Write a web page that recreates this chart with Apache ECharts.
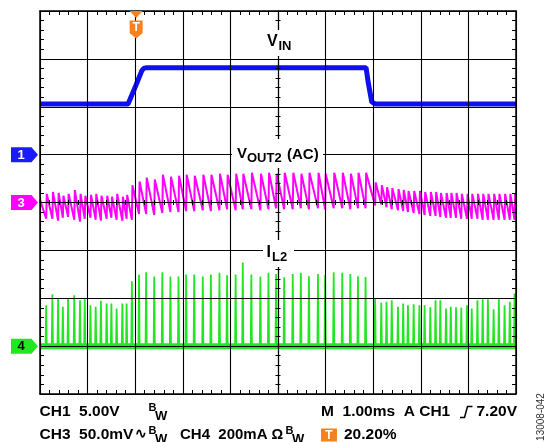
<!DOCTYPE html>
<html><head><meta charset="utf-8">
<script src="https://cdn.jsdelivr.net/npm/echarts@6/dist/echarts.min.js"></script>
<style>html,body{margin:0;padding:0;background:#fff}#c{width:553px;height:442px}</style>
</head><body><div id="c"></div>
<script>
// ---------- data (read from the scope capture) ----------
// time axis: 1.00 ms/div, trigger at 20.20 % of the screen
const timeRange = [-2.02, 7.98];           // ms
const divRangeX = [-5, 5];                 // screen divisions
const divRangeY = [-4, 4];
const ch1Range = [-25, 15];                // V   (5.00 V/div, ground +1 div)
const ch3Range = [-200, 200];              // mV  (50.0 mV/div, centre)
const ch4Range = [-200, 1400];             // mA  (200 mA/div, ground -3 div)

// CH1 : VIN
const vinT = [-2.02, -0.17, 0.00, 0.12, 0.16, 0.22, 4.83, 4.88, 4.95, 5.02, 7.98];
const vinV = [5.29, 5.29, 7.30, 8.77, 9.00, 9.08, 9.08, 7.40, 5.50, 5.29, 5.29];

// CH4 : IL2 current pulses
const spikeT = [-1.89, -1.76, -1.64, -1.54, -1.43, -1.30, -1.18, -1.08, -0.96, -0.85, -0.74, -0.62, -0.52, -0.41, -0.29, -0.20, -0.09,
  0.06, 0.21, 0.38, 0.55, 0.72, 0.89, 1.05, 1.22, 1.40, 1.57, 1.75, 1.91, 2.09, 2.24, 2.42, 2.61, 2.78, 2.94, 3.11, 3.29, 3.46, 3.63, 3.82, 3.97, 4.15, 4.33, 4.50, 4.66, 4.82,
  5.02, 5.15, 5.26, 5.37, 5.50, 5.61, 5.71, 5.83, 5.95, 6.06, 6.18, 6.29, 6.39, 6.51, 6.61, 6.72, 6.83, 6.95, 7.05, 7.17, 7.28, 7.39, 7.51, 7.62, 7.74, 7.85, 7.95];
const spikeI = [171, 217, 197, 164, 197, 212, 192, 197, 171, 164, 189, 178, 178, 157, 178, 178, 271,
  299, 309, 291, 309, 291, 291, 299, 299, 291, 299, 306, 296, 299, 349, 299, 291, 306, 301, 288, 301, 306, 292, 301, 296, 309, 306, 301, 292, 289,
  199, 181, 185, 192, 164, 178, 171, 175, 171, 171, 162, 192, 192, 157, 164, 162, 160, 171, 157, 192, 196, 196, 154, 199, 171, 185, 220];

// CH3 : VOUT2 (AC) ripple, one tooth per current pulse (peak after pulse, trough before next)
const voutStart = 3;
const voutFirstTrough = -17;
const voutPeak = [9, 11, 10, 7, 9, 13, 9, 7, 8, 9, 7, 7, 6, 9, 6, 8, 18,
  22, 26, 24, 29, 27, 28, 29, 28, 29, 29, 30, 29, 30, 30, 31, 30, 31, 30, 31, 31, 30, 31, 31, 30, 31, 31, 30, 31, 31,
  21, 18, 16, 15, 14, 13, 12, 12, 12, 11, 11, 11, 10, 10, 10, 10, 9, 9, 9, 9, 9, 9, 9, 9, 9, 9, 10];
const voutTrough = [-17, -19, -16, -15, -18, -20, -17, -16, -18, -19, -17, -16, -18, -19, -17, -18, -12,
  -12, -13, -11, -10, -10, -9, -9, -8, -9, -8, -7, -8, -7, -7, -8, -7, -6, -7, -7, -6, -7, -6, -7, -6, -6, -7, -6, -6, -3,
  -2, -5, -7, -8, -9, -10, -11, -12, -13, -14, -14, -15, -16, -16, -16, -17, -17, -17, -17, -18, -18, -18, -18, -18, -18, -18, 2];

// ---------- build series data ----------
const vinData = vinT.map((t, i) => [t, vinV[i]]);
const ilData = [[timeRange[0], 0]];
spikeT.forEach((t, i) => { ilData.push([t - 0.012, 0], [t, spikeI[i]], [t + 0.012, 0]); });
ilData.push([timeRange[1], 0]);
const voutData = [[timeRange[0], voutStart]];
spikeT.forEach((t, i) => {
  voutData.push([t, i === 0 ? voutFirstTrough : voutTrough[i - 1]]);
  voutData.push([t + 0.012, voutPeak[i]]);
});
voutData.push([timeRange[1], voutTrough[voutTrough.length - 1]]);

const FONT = 'Liberation Sans, Arial, sans-serif';
const BLUE = '#0f0ff0', MAG = '#ff00ff', GREEN = '#22e622', ORANGE = '#f5821f';

const border = { show: true, onZero: false, lineStyle: { color: '#000', width: 1.5 } };
const minor = len => ({ show: true, splitNumber: 5, length: len, lineStyle: { color: '#000', width: 1 } });
const split = { show: true, lineStyle: { color: '#000', width: 1.1 } };
function gridAxis(extra) {
  return Object.assign({ type: 'value', interval: 1, axisLabel: { show: false }, axisTick: { show: false }, splitLine: { show: false }, z: 10 }, extra);
}
const centerLine = { show: true, onZero: true, onZeroAxisIndex: 0, lineStyle: { color: '#000', width: 1.1 } };

const option = {
  animation: false,
  backgroundColor: '#fff',
  grid: { left: 40, top: 11, right: 37, bottom: 48, containLabel: false, outerBoundsMode: 'none' },
  xAxis: [
    gridAxis({ min: divRangeX[0], max: divRangeX[1], position: 'bottom', axisLine: border, axisTick: { show: false, inside: true }, minorTick: minor(4), splitLine: split }),
    gridAxis({ min: divRangeX[0], max: divRangeX[1], position: 'top', axisLine: border, axisTick: { show: false, inside: true }, minorTick: minor(4) }),
    gridAxis({ min: divRangeX[0], max: divRangeX[1], position: 'bottom', axisLine: centerLine, axisTick: { show: false, inside: true }, minorTick: minor(2.5) }),
    gridAxis({ min: divRangeX[0], max: divRangeX[1], position: 'bottom', axisLine: centerLine, axisTick: { show: false, inside: false }, minorTick: minor(2.5) }),
    { type: 'value', min: timeRange[0], max: timeRange[1], show: false, position: 'bottom', axisLine: { onZero: false } }
  ],
  yAxis: [
    gridAxis({ min: divRangeY[0], max: divRangeY[1], position: 'left', axisLine: border, axisTick: { show: false, inside: true }, minorTick: minor(4), splitLine: split }),
    gridAxis({ min: divRangeY[0], max: divRangeY[1], position: 'right', axisLine: border, axisTick: { show: false, inside: true }, minorTick: minor(4) }),
    gridAxis({ min: divRangeY[0], max: divRangeY[1], position: 'left', axisLine: centerLine, axisTick: { show: false, inside: true }, minorTick: minor(2.5) }),
    gridAxis({ min: divRangeY[0], max: divRangeY[1], position: 'left', axisLine: centerLine, axisTick: { show: false, inside: false }, minorTick: minor(2.5) }),
    { type: 'value', min: ch1Range[0], max: ch1Range[1], show: false, position: 'left', axisLine: { onZero: false } },
    { type: 'value', min: ch3Range[0], max: ch3Range[1], show: false, position: 'left', axisLine: { onZero: false } },
    { type: 'value', min: ch4Range[0], max: ch4Range[1], show: false, position: 'left', axisLine: { onZero: false } }
  ],
  series: [
    { type: 'line', name: 'IL2 base', xAxisIndex: 4, yAxisIndex: 6, data: [[timeRange[0], 0], [timeRange[1], 0]], showSymbol: false, lineStyle: { color: GREEN, width: 6 }, silent: true },
    { type: 'line', name: 'IL2', xAxisIndex: 4, yAxisIndex: 6, data: ilData, showSymbol: false, lineStyle: { color: GREEN, width: 1.8 }, silent: true },
    { type: 'line', name: 'VOUT2', xAxisIndex: 4, yAxisIndex: 5, data: voutData, showSymbol: false, lineStyle: { color: MAG, width: 2 }, silent: true },
    { type: 'line', name: 'VIN', xAxisIndex: 4, yAxisIndex: 4, data: vinData, showSymbol: false, lineStyle: { color: BLUE, width: 5 }, silent: true }
  ]
};

const chart = echarts.init(document.getElementById('c'), null, { renderer: 'canvas' });
chart.setOption(option);

// ---------- annotations ----------
const gx0 = chart.convertToPixel({ xAxisIndex: 0 }, divRangeX[0]);
const gyTop = chart.convertToPixel({ yAxisIndex: 0 }, divRangeY[1]);
const trigX = chart.convertToPixel({ xAxisIndex: 4 }, 0);
const y1 = chart.convertToPixel({ yAxisIndex: 4 }, 0);
const y3 = chart.convertToPixel({ yAxisIndex: 5 }, 0);
const y4 = chart.convertToPixel({ yAxisIndex: 6 }, 0);

function chMarker(y, color, label, tc) {
  const xL = gx0 - 29, xR = gx0 - 2;
  return [
    { type: 'polygon', z: 50, shape: { points: [[xL, y - 7.5], [xR - 6.5, y - 7.5], [xR, y], [xR - 6.5, y + 7.5], [xL, y + 7.5]] }, style: { fill: color } },
    { type: 'text', z: 51, style: { text: label, x: xL + 10, y: y + 0.5, fill: tc, font: 'bold 13px ' + FONT, align: 'center', verticalAlign: 'middle' } }
  ];
}
function txt(s, x, y, size, extra) {
  return Object.assign({ type: 'text', z: 60, style: { text: s, x: x, y: y, fill: '#000', font: 'bold ' + size + 'px ' + FONT, align: 'left', verticalAlign: 'middle' } }, extra || {});
}
function whiteBox(x, y, w, h) {
  return { type: 'rect', z: 55, shape: { x: x, y: y, width: w, height: h }, style: { fill: '#fff' } };
}

const g = [];
g.push(...chMarker(y1, '#1a1aff', '1', '#fff'));
g.push(...chMarker(y3, MAG, '3', '#fff'));
g.push(...chMarker(y4, GREEN, '4', '#000'));
// trigger marker
g.push({ type: 'polygon', z: 50, shape: { points: [[trigX - 6.5, gyTop], [trigX + 6.5, gyTop], [trigX, gyTop + 7]] }, style: { fill: ORANGE } });
g.push({ type: 'polygon', z: 50, shape: { points: [[trigX - 6.5, gyTop + 9.5], [trigX + 6.5, gyTop + 9.5], [trigX + 6.5, gyTop + 22], [trigX, gyTop + 27.5], [trigX - 6.5, gyTop + 22]] }, style: { fill: ORANGE } });
g.push({ type: 'text', z: 51, style: { text: 'T', x: trigX, y: gyTop + 16.5, fill: '#fff', font: 'bold 12px ' + FONT, align: 'center', verticalAlign: 'middle' } });

// trace labels
g.push(whiteBox(262, 30, 34, 26));
g.push(txt('V', 267, 42, 16), txt('IN', 278.5, 46.5, 13));
g.push(whiteBox(232, 139, 91, 29));
g.push(txt('V', 237, 153.5, 15), txt('OUT2', 247, 158.5, 13), txt('(AC)', 287, 155, 15));
g.push(whiteBox(263, 240, 31, 27));
g.push(txt('I', 266.5, 252.5, 16), txt('L2', 272, 257.5, 13));

// footer
const F = 15.5, L1 = 412, L2 = 435;
g.push(txt('CH1  5.00V', 39.5, L1, F));
g.push(txt('B', 148.5, L1 - 4.5, 11), txt('W', 155, L1 + 4, 13));
g.push(txt('M  1.00ms  A CH1', 321, L1, F));
g.push({ type: 'polyline', z: 60, shape: { points: [[460, L1 + 5.5], [464.5, L1 + 5.5], [467.5, L1 - 5.5], [472.5, L1 - 5.5]] }, style: { stroke: '#000', lineWidth: 1.5, fill: null } });
g.push(txt('7.20V', 476.5, L1, F));
g.push(txt('CH3  50.0mV', 39.5, L2, F));
g.push(txt('\u223F', 135, L2 - 1, 14, {}));
g.push(txt('B', 148.5, L2 - 4.5, 11), txt('W', 155, L2 + 4, 13));
g.push(txt('CH4  200mA', 180, L2, 15));
g.push(txt('\u03A9', 271.5, L2, 14.5));
g.push(txt('B', 285.5, L2 - 4.5, 11), txt('W', 292, L2 + 4, 13));
g.push({ type: 'rect', z: 60, shape: { x: 321, y: L2 - 6.5, width: 16, height: 13 }, style: { fill: ORANGE } });
g.push({ type: 'text', z: 61, style: { text: 'T', x: 329, y: L2 + 0.5, fill: '#fff', font: 'bold 12px ' + FONT, align: 'center', verticalAlign: 'middle' } });
g.push(txt('20.20%', 344, L2, F));
// figure id
g.push({ type: 'text', z: 60, x: 541, y: 417, rotation: Math.PI / 2, style: { text: '13008-042', x: 0, y: 0, fill: '#333', font: '10px ' + FONT, align: 'center', verticalAlign: 'middle' } });

chart.setOption({ graphic: { elements: g } });
</script>
</body></html>
